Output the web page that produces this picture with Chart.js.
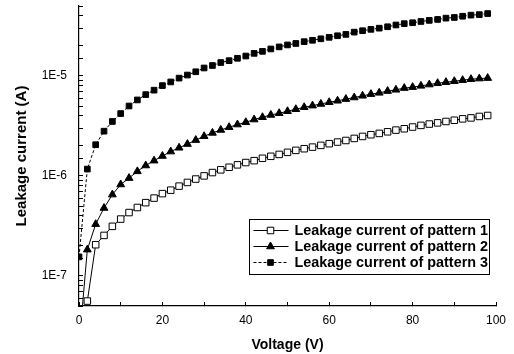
<!DOCTYPE html>
<html>
<head>
<meta charset="utf-8">
<script src="https://cdn.jsdelivr.net/npm/chart.js@4/dist/chart.umd.min.js"></script>
<style>
  body { margin: 0; background: #fff; }
  canvas { display: block; }
</style>
</head>
<body>
<canvas id="leakage" width="514" height="354"></canvas>
<script>
// voltage steps (V)
const voltage = [0, 2, 4, 6, 8, 10, 12, 14, 16, 18, 20, 22, 24, 26, 28, 30, 32, 34, 36, 38,
  40, 42, 44, 46, 48, 50, 52, 54, 56, 58, 60, 62, 64, 66, 68, 70, 72, 74, 76, 78,
  80, 82, 84, 86, 88, 90, 92, 94, 96, 98];

// leakage current (A)
const pattern1 = [null, 5.6e-8, 2.05e-7, 2.54e-7, 3.13e-7, 3.7e-7, 4.3e-7, 4.83e-7, 5.4e-7, 6.0e-7,
  6.65e-7, 7.2e-7, 7.9e-7, 8.6e-7, 9.3e-7, 1.0e-6, 1.08e-6, 1.15e-6, 1.22e-6, 1.29e-6,
  1.36e-6, 1.42e-6, 1.5e-6, 1.57e-6, 1.64e-6, 1.72e-6, 1.8e-6, 1.87e-6, 1.94e-6, 2.02e-6,
  2.1e-6, 2.18e-6, 2.26e-6, 2.37e-6, 2.48e-6, 2.58e-6, 2.66e-6, 2.76e-6, 2.87e-6, 2.96e-6,
  3.08e-6, 3.2e-6, 3.3e-6, 3.39e-6, 3.5e-6, 3.6e-6, 3.72e-6, 3.8e-6, 3.93e-6, 4.02e-6];

const pattern2 = [2e-8, 1.83e-7, 3.29e-7, 4.77e-7, 6.5e-7, 8.2e-7, 9.5e-7, 1.11e-6, 1.27e-6, 1.42e-6,
  1.58e-6, 1.75e-6, 1.91e-6, 2.08e-6, 2.28e-6, 2.49e-6, 2.69e-6, 2.88e-6, 3.07e-6, 3.26e-6,
  3.44e-6, 3.66e-6, 3.86e-6, 4.07e-6, 4.23e-6, 4.43e-6, 4.64e-6, 4.86e-6, 5.04e-6, 5.24e-6,
  5.45e-6, 5.64e-6, 5.86e-6, 6.08e-6, 6.32e-6, 6.57e-6, 6.77e-6, 7.05e-6, 7.26e-6, 7.55e-6,
  7.72e-6, 7.95e-6, 8.19e-6, 8.45e-6, 8.65e-6, 8.85e-6, 9.06e-6, 9.27e-6, 9.4e-6, 9.5e-6];

const pattern3 = [1.55e-7, 1.17e-6, 2.05e-6, 2.8e-6, 3.5e-6, 4.2e-6, 5.0e-6, 5.75e-6, 6.5e-6, 7.2e-6,
  8.0e-6, 8.7e-6, 9.5e-6, 1.02e-5, 1.1e-5, 1.2e-5, 1.27e-5, 1.36e-5, 1.42e-5, 1.5e-5,
  1.58e-5, 1.68e-5, 1.76e-5, 1.86e-5, 1.95e-5, 2.04e-5, 2.11e-5, 2.2e-5, 2.27e-5, 2.35e-5,
  2.43e-5, 2.52e-5, 2.6e-5, 2.74e-5, 2.83e-5, 2.92e-5, 3.0e-5, 3.1e-5, 3.23e-5, 3.33e-5,
  3.4e-5, 3.5e-5, 3.59e-5, 3.67e-5, 3.78e-5, 3.84e-5, 3.95e-5, 4.05e-5, 4.1e-5, 4.2e-5];

const seriesNames = ['Leakage current of pattern 1', 'Leakage current of pattern 2', 'Leakage current of pattern 3'];

const xTicks = [0, 20, 40, 60, 80, 100];

const pts = (arr) => voltage.map((v, i) => ({ x: v, y: arr[i] }));

// boxed legend inside the plot, line + marker samples like the original
const boxLegend = {
  id: 'boxLegend',
  afterDraw(chart) {
    const ctx = chart.ctx;
    const left = 249.5, top = 219.5, w = 240, h = 55;
    ctx.save();
    ctx.strokeStyle = '#000';
    ctx.lineWidth = 1;
    ctx.strokeRect(left, top, w, h);
    ctx.font = 'bold 14.4px "Liberation Sans", Arial, sans-serif';
    ctx.textBaseline = 'middle';
    ctx.fillStyle = '#000';
    chart.data.datasets.forEach((ds, i) => {
      const y = top + 11 + i * 16;
      ctx.save();
      ctx.lineWidth = 1;
      ctx.strokeStyle = '#000';
      ctx.setLineDash(ds.borderDash || []);
      ctx.beginPath();
      ctx.moveTo(left + 4, y);
      ctx.lineTo(left + 39, y);
      ctx.stroke();
      ctx.restore();
      ctx.save();
      ctx.fillStyle = ds.pointBackgroundColor;
      ctx.strokeStyle = '#000';
      ctx.lineWidth = 1;
      Chart.helpers.drawPoint(ctx, { pointStyle: ds.pointStyle, radius: ds.pointRadius, borderWidth: 1 }, left + 21, y);
      ctx.restore();
      ctx.fillText(ds.label, left + 45, y + 1);
    });
    ctx.restore();
  }
};

const chart = new Chart(document.getElementById('leakage'), {
  type: 'line',
  data: {
    datasets: [{
      label: seriesNames[0],
      data: pts(pattern1),
      borderColor: '#000',
      borderWidth: 1,
      pointStyle: 'rect',
      pointRadius: 4.6,
      pointBorderWidth: 1,
      pointBorderColor: '#000',
      pointBackgroundColor: '#fff'
    }, {
      label: seriesNames[1],
      data: pts(pattern2),
      borderColor: '#000',
      borderWidth: 1,
      pointStyle: 'triangle',
      pointRadius: 4.5,
      pointBorderWidth: 1,
      pointBorderColor: '#000',
      pointBackgroundColor: '#000'
    }, {
      label: seriesNames[2],
      data: pts(pattern3),
      borderColor: '#000',
      borderWidth: 1,
      borderDash: [3, 2],
      pointStyle: 'rect',
      pointRadius: 4,
      pointBorderWidth: 1,
      pointBorderColor: '#000',
      pointBackgroundColor: '#000'
    }]
  },
  options: {
    responsive: false,
    animation: false,
    layout: { padding: { left: 0, right: 18, top: 6, bottom: 0 } },
    plugins: {
      legend: { display: false },
      tooltip: { enabled: false }
    },
    scales: {
      x: {
        type: 'linear',
        min: 0,
        max: 100,
        afterFit: (s) => {
          s.height = 48;
          s.paddingLeft = 0;
          s.paddingRight = 0;
        },
        afterBuildTicks: (s) => {
          s.ticks = [0, 10, 20, 30, 40, 50, 60, 70, 80, 90, 100].map(v => ({ value: v }));
        },
        ticks: {
          autoSkip: false,
          maxRotation: 0,
          padding: 11,
          color: '#000',
          font: { family: '"Liberation Sans", Arial, sans-serif', size: 12 },
          callback: (v) => xTicks.includes(v) ? String(v) : ''
        },
        grid: { drawOnChartArea: false, color: '#000', tickLength: -4 },
        border: { color: '#000', width: 1.2 },
        title: {
          display: true,
          text: 'Voltage (V)',
          color: '#000',
          font: { family: '"Liberation Sans", Arial, sans-serif', size: 14, weight: 'bold' },
          padding: { top: 1, bottom: 0 }
        }
      },
      y: {
        type: 'logarithmic',
        min: 5e-8,
        max: 5e-5,
        afterFit: (s) => {
          s.width = 79;
          s.paddingTop = 0;
          s.paddingBottom = 0;
        },
        ticks: {
          autoSkip: false,
          padding: 16,
          color: '#000',
          font: { family: '"Liberation Sans", Arial, sans-serif', size: 12 },
          callback: (v) => {
            const e = Math.log10(v);
            return Math.abs(e - Math.round(e)) < 1e-6 ? '1E' + Math.round(e) : '';
          }
        },
        grid: { drawOnChartArea: false, color: '#000', tickLength: -4 },
        border: { color: '#000', width: 1.2 },
        title: {
          display: true,
          text: 'Leakage current (A)',
          color: '#000',
          font: { family: '"Liberation Sans", Arial, sans-serif', size: 15, weight: 'bold' },
          padding: { top: 13, bottom: 0 }
        }
      }
    }
  },
  plugins: [boxLegend]
});
</script>
</body>
</html>
